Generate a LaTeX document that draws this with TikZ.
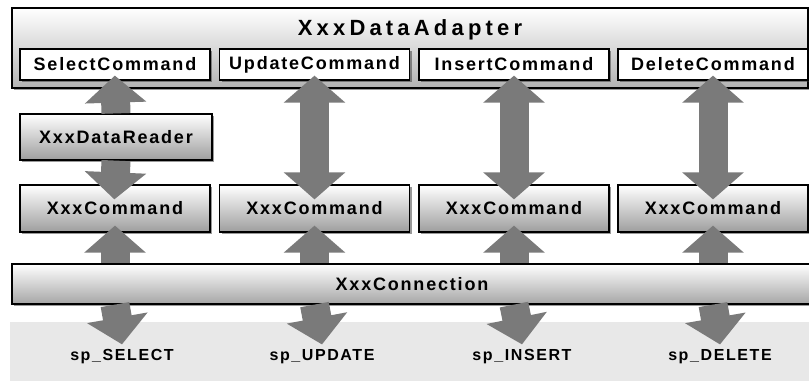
\documentclass[tikz,border=0pt]{standalone}
\usepackage{fontspec}
\newfontfamily\boxfont{Liberation Sans}[LetterSpace=10]
\newfontfamily\titlefont{Liberation Sans}[LetterSpace=19]
\usetikzlibrary{arrows.meta, shadows}
\tikzstyle{Box} = [
draw=black, line width=0.6pt,
minimum width=95pt, minimum height=15.5pt, inner sep=0pt,
font=\boxfont\bfseries\fontsize{9}{10}\selectfont,
drop shadow={shadow xshift=1pt, shadow yshift=-1pt, fill=black!80}]
\tikzstyle{Plain} = [Box, fill=white]
\tikzstyle{Shaded} = [Box, minimum height=23.5pt,
top color=white, middle color=black!12, bottom color=black!38]
\tikzstyle{Bar} = [Box, minimum width=400pt, minimum height=20pt,
top color=white, middle color=black!15, bottom color=black!35]
\tikzstyle{Outer} = [Box, minimum width=398pt, minimum height=40pt,
top color=white, middle color=white, bottom color=black!30]
\tikzstyle{Proc} = [inner sep=2.5pt, font=\boxfont\bfseries\fontsize{8}{9}\selectfont]
\tikzstyle{Arrow} = [line width=14.5pt, draw=black!52]
\tikzstyle{Up} = [Arrow, {Triangle[length=13.5pt, width=30pt]}-]
\tikzstyle{Down} = [Arrow, -{Triangle[length=13.5pt, width=30pt]}]
\tikzstyle{Both} = [Arrow, {Triangle[length=13.5pt, width=30pt]}-{Triangle[length=13.5pt, width=30pt]}]

\begin{document}
\begin{tikzpicture}[x=0.5pt, y=-0.5pt]
    \clip (0,0) rectangle (809,381);
    % grey band behind the stored procedures
    \fill[black!9] (10,322) rectangle (809,381);
    \node[Outer] (0) at (410,48) {};
    \node[font=\titlefont\bfseries\fontsize{11}{12}\selectfont] (00) at (410,30) {XxxDataAdapter};
    \node[Plain] (1) at (115,64.5) {SelectCommand};
    \node[Plain] (2) at (314.5,64.5) {UpdateCommand};
    \node[Plain] (3) at (514,64.5) {InsertCommand};
    \node[Plain] (4) at (713,64.5) {DeleteCommand};
    \node[Shaded, minimum width=96pt, minimum height=23pt] (r) at (116,137) {XxxDataReader};
    \node[Shaded] (5) at (115,208.5) {XxxCommand};
    \node[Shaded] (6) at (314.5,208.5) {XxxCommand};
    \node[Shaded] (7) at (514,208.5) {XxxCommand};
    \node[Shaded] (8) at (713,208.5) {XxxCommand};
    \node[Bar] (c) at (412,284) {XxxConnection};
    \node[Proc] (s1) at (122,357) {sp\_SELECT};
    \node[Proc] (s2) at (322,357) {sp\_UPDATE};
    \node[Proc] (s3) at (522,357) {sp\_INSERT};
    \node[Proc] (s4) at (720,357) {sp\_DELETE};
    % commands down to the command objects
    \draw[Up, shorten <=-2.5pt] (1.south) -- (r.north);
    \draw[Down, shorten >=-7.5pt] (r.south) -- (5.north);
    \draw[Both, shorten <=-2.5pt, shorten >=-7.5pt] (2.south) -- (6.north);
    \draw[Both, shorten <=-2.5pt, shorten >=-7.5pt] (3.south) -- (7.north);
    \draw[Both, shorten <=-2.5pt, shorten >=-7.5pt] (4.south) -- (8.north);
    % command objects and the connection
    \draw[Up, shorten <=-3.5pt] (5.south) -- (5.south |- c.north);
    \draw[Up, shorten <=-3.5pt] (6.south) -- (6.south |- c.north);
    \draw[Up, shorten <=-3.5pt] (7.south) -- (7.south |- c.north);
    \draw[Up, shorten <=-3.5pt] (8.south) -- (8.south |- c.north);
    % connection down to the procedures
    \draw[Down] (5.south |- c.south) -- (s1.north);
    \draw[Down] (6.south |- c.south) -- (s2.north);
    \draw[Down] (7.south |- c.south) -- (s3.north);
    \draw[Down] (8.south |- c.south) -- (s4.north);
\end{tikzpicture}
\end{document}
